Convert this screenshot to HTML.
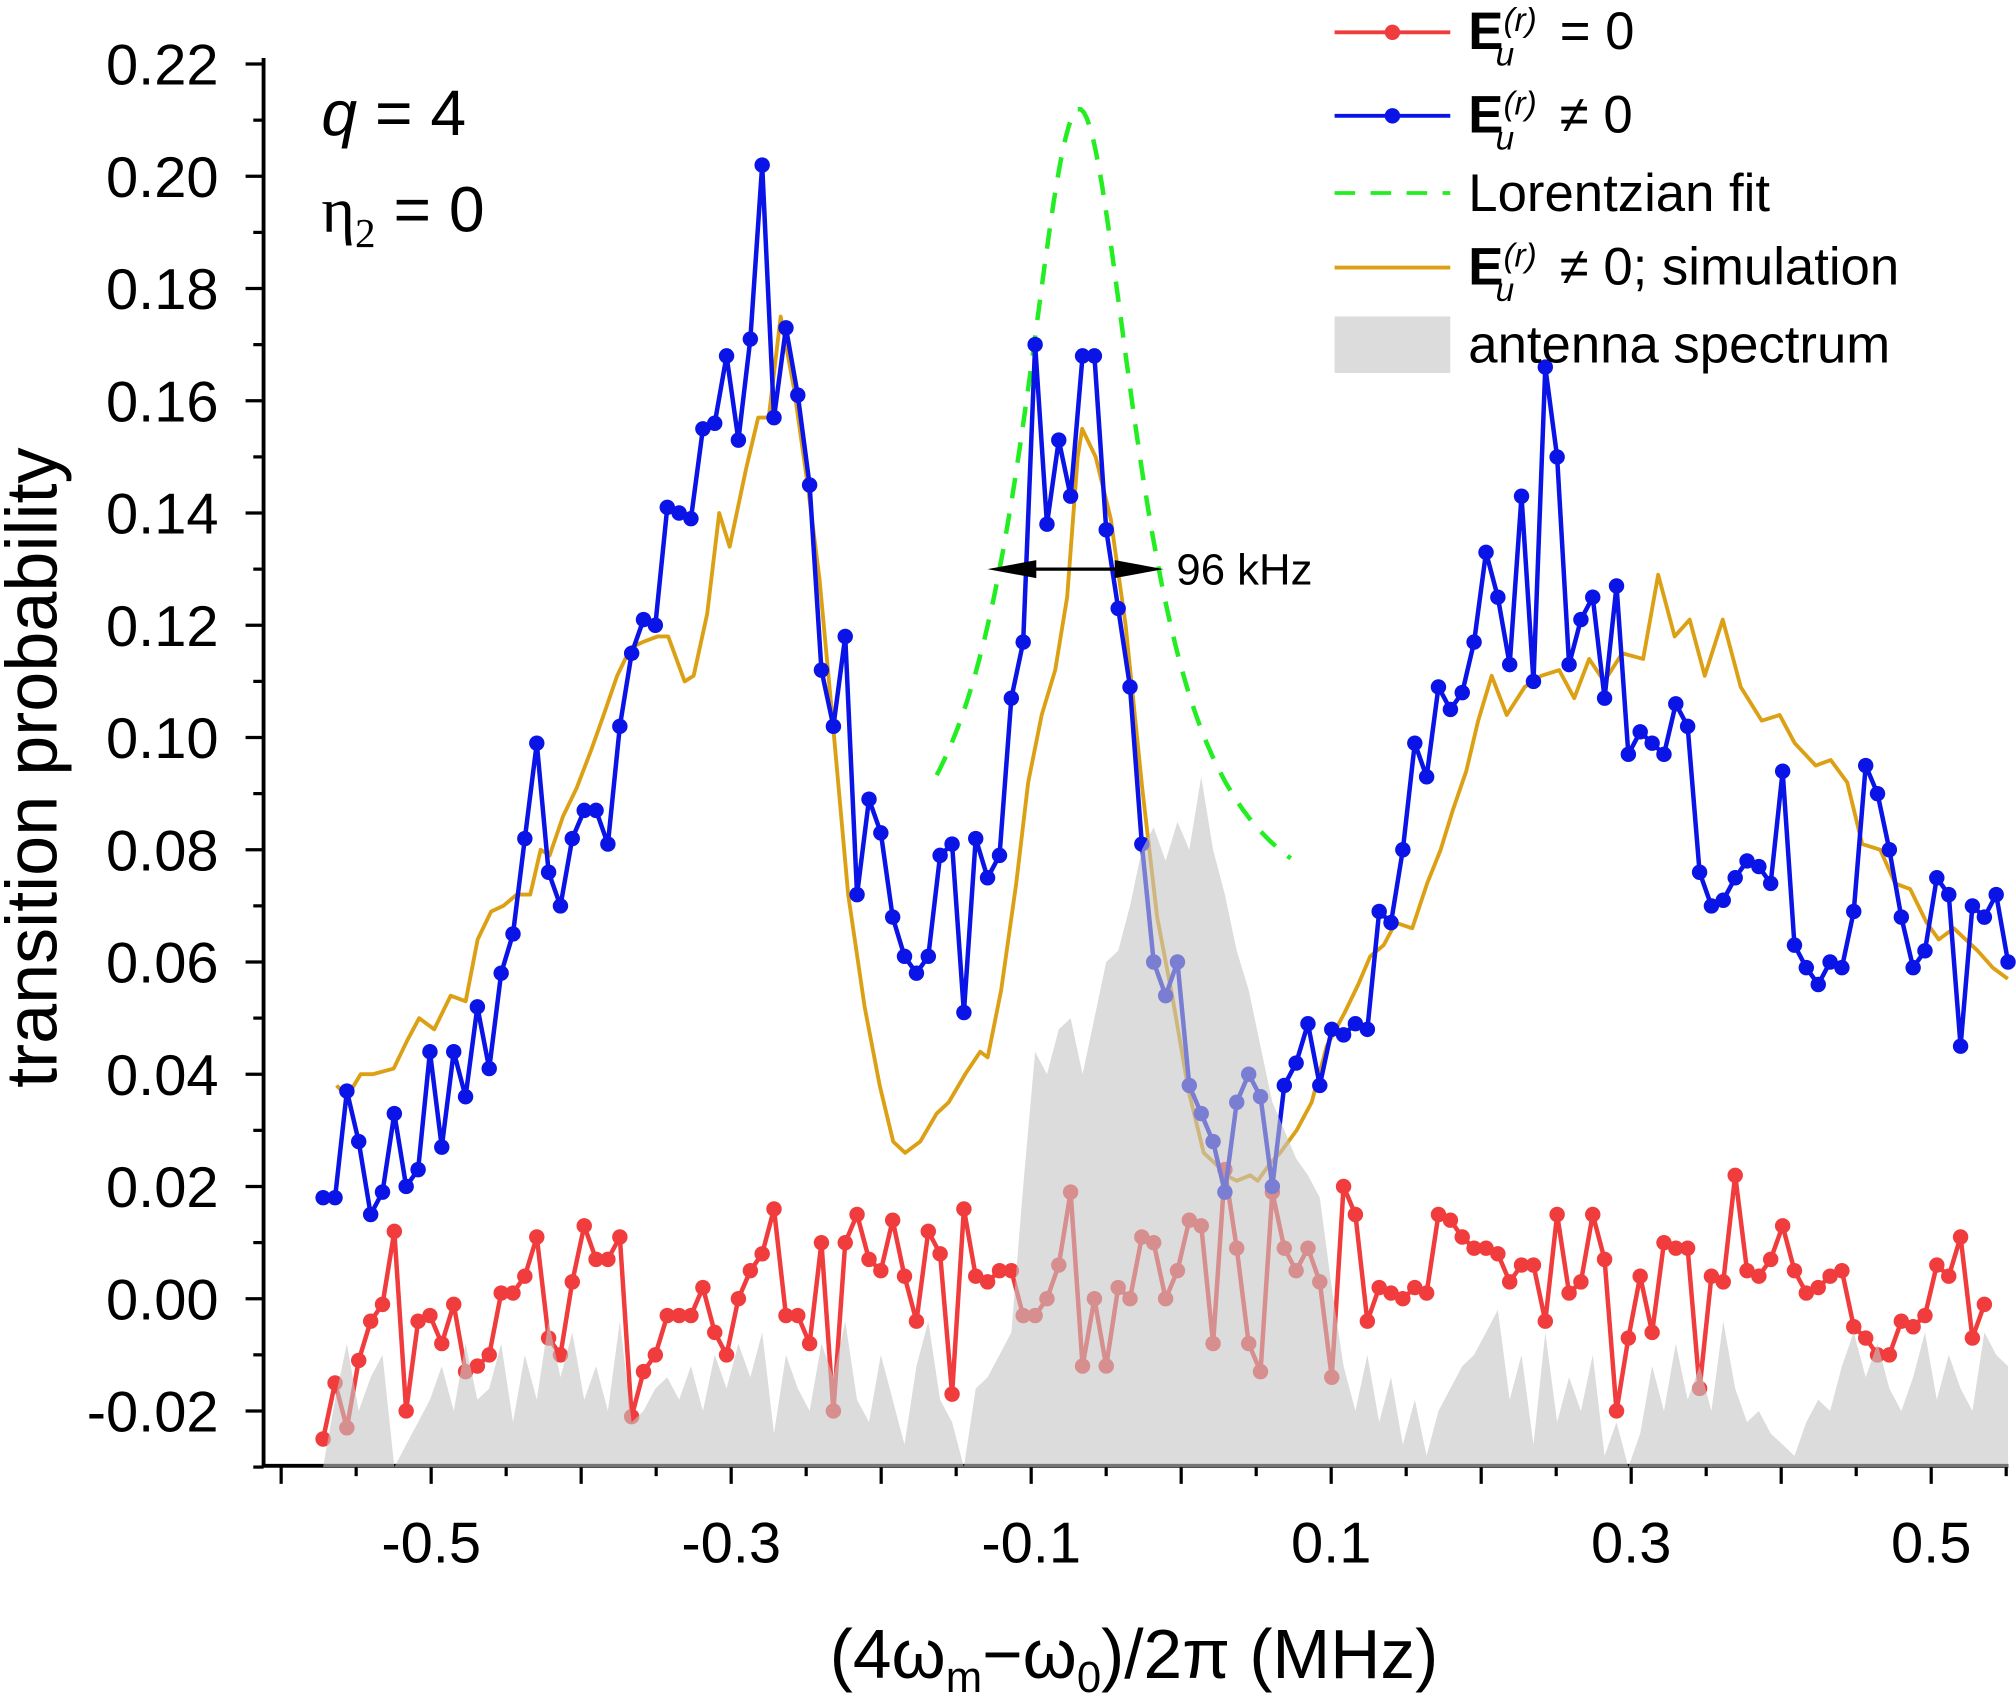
<!DOCTYPE html>
<html><head><meta charset="utf-8"><style>
html,body{margin:0;padding:0;background:#fff;}
svg{display:block;font-family:"Liberation Sans",sans-serif;}
</style></head><body>
<svg id="chart" width="2016" height="1700" viewBox="0 0 1568 1322" xmlns="http://www.w3.org/2000/svg">
<g id="axes"></g>
<g id="plot"></g>
<g>
  <line x1="1038" y1="25" x2="1128" y2="25" stroke="#f03c3c" stroke-width="3"/><circle cx="1083" cy="25" r="6" fill="#f03c3c"/>
  <text x="1142" y="38" font-size="41"><tspan font-weight="bold">E</tspan><tspan font-size="26" dy="-14" font-style="italic">(r)</tspan><tspan font-size="26" dx="-32" dy="27" font-style="italic">u</tspan><tspan dy="-13" dx="24"> = 0</tspan></text>
  <line x1="1038" y1="90" x2="1128" y2="90" stroke="#0a14e6" stroke-width="3"/><circle cx="1083" cy="90" r="6" fill="#0a14e6"/>
  <text x="1142" y="103" font-size="41"><tspan font-weight="bold">E</tspan><tspan font-size="26" dy="-14" font-style="italic">(r)</tspan><tspan font-size="26" dx="-32" dy="27" font-style="italic">u</tspan><tspan dy="-13" dx="24"> ≠ 0</tspan></text>
  <line x1="1038" y1="150" x2="1128" y2="150" stroke="#22ee22" stroke-width="3" stroke-dasharray="16,12"/>
  <text x="1142" y="164" font-size="41">Lorentzian fit</text>
  <line x1="1038" y1="208" x2="1128" y2="208" stroke="#dca015" stroke-width="3"/>
  <text x="1142" y="221" font-size="41"><tspan font-weight="bold">E</tspan><tspan font-size="26" dy="-14" font-style="italic">(r)</tspan><tspan font-size="26" dx="-32" dy="27" font-style="italic">u</tspan><tspan dy="-13" dx="24"> ≠ 0; simulation</tspan></text>
  <rect x="1038" y="246" width="90" height="44" fill="#dcdcdc"/>
  <text x="1142" y="282" font-size="41">antenna spectrum</text>
</g>
<text x="250" y="105" font-size="50"><tspan font-style="italic">q</tspan>  = 4</text>
<text x="250" y="180" font-size="50"><tspan font-family="Liberation Serif">η</tspan><tspan font-size="32" dy="12" font-family="Liberation Serif">2</tspan><tspan dy="-12"> = 0</tspan></text>
<text x="882" y="1305" font-size="54" text-anchor="middle">(4ω<tspan font-size="34" dy="11">m</tspan><tspan dy="-11">−ω</tspan><tspan font-size="34" dy="11">0</tspan><tspan dy="-11">)/2π (MHz)</tspan></text>
<text transform="translate(44,597) rotate(-90)" font-size="56" text-anchor="middle">transition probability</text>
</svg>
<script>
const xStart = -0.572;
const xStep = 0.00791;
const blueVals = [.018,.018,.037,.028,.015,.019,.033,.020,.023,.044,
.027,.044,.036,.052,.041,.058,.065,.082,.099,.076,
.070,.082,.087,.087,.081,.102,.115,.121,.120,.141,
.140,.139,.155,.156,.168,.153,.171,.202,.157,.173,
.161,.145,.112,.102,.118,.072,.089,.083,.068,.061,
.058,.061,.079,.081,.051,.082,.075,.079,.107,.117,
.170,.138,.153,.143,.168,.168,.137,.123,.109,.081,
.060,.054,.060,.038,.033,.028,.019,.035,.040,.036,.020,
.038,.042,.049,.038,.048,.047,.049,.048,.069,.067,
.080,.099,.093,.109,.105,.108,.117,.133,.125,.113,
.143,.110,.166,.150,.113,.121,.125,.107,.127,.097,
.101,.099,.097,.106,.102,.076,.070,.071,.075,.078,
.077,.074,.094,.063,.059,.056,.060,.059,.069,.095,
.090,.080,.068,.059,.062,.075,.072,.045,.070,.068,
.072,.060];
const redVals = [-.025,-.015,-.023,-.011,-.004,-.001,.012,-.020,-.004,-.003,
-.008,-.001,-.013,-.012,-.010,.001,.001,.004,.011,-.007,
-.010,.003,.013,.007,.007,.011,-.021,-.013,-.010,-.003,
-.003,-.003,.002,-.006,-.010,.000,.005,.008,.016,-.003,
-.003,-.008,.010,-.020,.010,.015,.007,.005,.014,.004,
-.004,.012,.008,-.017,.016,.004,.003,.005,.005,-.003,
-.003,.000,.006,.019,-.012,.000,-.012,.002,.000,.011,
.010,.000,.005,.014,.013,-.008,.023,.009,-.008,-.013,
.019,.009,.005,.009,.003,-.014,.020,.015,-.004,.002,
.001,.000,.002,.001,.015,.014,.011,.009,.009,.008,
.003,.006,.006,-.004,.015,.001,.003,.015,.007,-.020,
-.007,.004,-.006,.010,.009,.009,-.016,.004,.003,.022,
.005,.004,.007,.013,.005,.001,.002,.004,.005,-.005,
-.007,-.010,-.010,-.004,-.005,-.003,.006,.004,.011,-.007,-.001];
const antennaVals = [-.030,-.018,-.008,-.020,-.014,-.010,-.030,-.026,-.022,-.018,
-.012,-.020,-.008,-.018,-.016,-.008,-.022,-.010,-.018,-.004,
-.014,-.006,-.018,-.012,-.020,-.004,-.022,-.020,-.016,-.014,
-.018,-.012,-.020,-.010,-.016,-.008,-.014,-.006,-.024,-.010,
-.016,-.020,-.008,-.014,-.004,-.018,-.022,-.010,-.018,-.026,
-.012,-.004,-.018,-.022,-.030,-.016,-.014,-.010,-.006,.020,
.044,.040,.048,.050,.040,.050,.060,.062,.070,.080,
.084,.078,.085,.080,.093,.080,.072,.062,.055,.045,
.035,.030,.025,.022,.018,.002,-.012,-.020,-.010,-.022,
-.014,-.026,-.018,-.028,-.020,-.016,-.012,-.010,-.006,-.002,
-.018,-.010,-.026,-.006,-.022,-.014,-.020,-.010,-.028,-.022,
-.030,-.024,-.012,-.020,-.008,-.018,-.012,-.020,-.004,-.016,
-.022,-.020,-.024,-.026,-.028,-.022,-.018,-.020,-.012,-.006,
-.014,-.008,-.016,-.020,-.014,-.006,-.018,-.010,-.016,-.020,-.006,-.010,-.012];
const simX = [-.563,-.556,-.547,-.539,-.525,-.516,-.508,-.498,-.487,-.477,-.469,-.460,-.452,-.443,-.434,-.427,-.421,-.412,-.403,-.393,-.385,-.376,-.367,-.359,-.349,-.342,-.331,-.325,-.316,-.308,-.301,-.290,-.282,-.275,-.267,-.258,-.249,-.241,-.232,-.222,-.211,-.201,-.192,-.184,-.174,-.163,-.155,-.144,-.134,-.129,-.120,-.110,-.102,-.093,-.084,-.076,-.069,-.066,-.057,-.047,-.037,-.026,-.016,-.006,.005,.015,.023,.030,.037,.046,.051,.059,.066,.077,.087,.097,.109,.118,.126,.135,.143,.154,.164,.173,.181,.190,.198,.207,.217,.229,.240,.252,.262,.272,.282,.294,.308,.318,.329,.339,.349,.361,.373,.387,.399,.409,.423,.433,.444,.454,.466,.476,.486,.497,.505,.515,.531,.541,.551];
const simVals = [.038,.036,.040,.040,.041,.046,.050,.048,.054,.053,.064,.069,.070,.072,.072,.080,.079,.086,.091,.098,.104,.111,.116,.117,.118,.118,.110,.111,.122,.140,.134,.148,.157,.157,.175,.162,.145,.128,.102,.072,.052,.038,.028,.026,.028,.033,.035,.040,.044,.043,.055,.074,.092,.104,.112,.125,.150,.155,.150,.139,.120,.091,.068,.054,.037,.026,.024,.022,.021,.022,.021,.024,.026,.030,.035,.045,.051,.056,.061,.063,.067,.066,.074,.080,.087,.094,.103,.111,.104,.109,.111,.112,.107,.114,.110,.115,.114,.129,.118,.121,.111,.121,.109,.103,.104,.099,.095,.096,.092,.081,.080,.074,.073,.067,.064,.066,.062,.059,.057];
const lorentzParams = [-0.068, 0.048, 0.149, 0.063]; // center, half-width, amplitude, offset
const lorentzRange = [-0.163, 0.074];
const yTicks = [-0.02,0.00,0.02,0.04,0.06,0.08,0.10,0.12,0.14,0.16,0.18,0.20,0.22];
const yTickLabels = ["-0.02","0.00","0.02","0.04","0.06","0.08","0.10","0.12","0.14","0.16","0.18","0.20","0.22"];
const xTicks = [-0.5,-0.3,-0.1,0.1,0.3,0.5];
const xTickLabels = ["-0.5","-0.3","-0.1","0.1","0.3","0.5"];

const NS = "http://www.w3.org/2000/svg";
const X = v => 918.7 + v * 1166.7;
const Y = v => 1010 - v * 4365;
const yMin = -0.03, xLeft = 205, xRight = 1562;
function mk(tag, attrs, parent){ const e=document.createElementNS(NS,tag); for(const k in attrs) e.setAttribute(k,attrs[k]); parent.appendChild(e); return e; }
const axes = document.getElementById('axes'), plot = document.getElementById('plot');
const gx = i => xStart + i * xStep;

let d = simX.map((x,i)=>(i?'L':'M')+X(x).toFixed(1)+' '+Y(simVals[i]).toFixed(1)).join(' ');
const sim = mk('path',{d:d,fill:'none',stroke:'#dca015','stroke-width':3,'stroke-linejoin':'round'},plot);



let lp=[]; for(let x=lorentzRange[0]; x<=lorentzRange[1]+1e-9; x+=0.002){ const u=(x-lorentzParams[0])/lorentzParams[1]; lp.push((lp.length?'L':'M')+X(x).toFixed(1)+' '+Y(lorentzParams[3]+lorentzParams[2]/(1+u*u)).toFixed(1)); }
const lor = mk('path',{d:lp.join(' '),fill:'none',stroke:'#22ee22','stroke-width':3.5,'stroke-dasharray':'16,12'},plot);



function series(vals,color,name){
  const g = mk('g',{},plot);
  
  
  mk('path',{d:vals.map((v,i)=>(i?'L':'M')+X(gx(i)).toFixed(1)+' '+Y(v).toFixed(1)).join(' '),fill:'none',stroke:color,'stroke-width':3.5,'stroke-linejoin':'round'},g);
  vals.forEach((v,i)=>{ const c=mk('circle',{cx:X(gx(i)).toFixed(1),cy:Y(v).toFixed(1),r:6,fill:color},g);
    
     });
}
series(redVals,'#f03c3c','red-series');
series(blueVals,'#0a14e6','blue-series');

let ad = 'M'+X(gx(0)).toFixed(1)+' '+Y(yMin)+' '+antennaVals.map((v,i)=>'L'+Math.min(X(gx(i)),xRight).toFixed(1)+' '+Y(Math.max(v,yMin)).toFixed(1)).join(' ')+' L'+Math.min(X(gx(antennaVals.length-1)),xRight).toFixed(1)+' '+Y(yMin)+' Z';
const ant = mk('path',{d:ad,fill:'#c4c4c4','fill-opacity':0.6,stroke:'none'},plot);



const arY = Y(0.13);
const ar = mk('g',{},plot);


mk('line',{x1:790,y1:arY,x2:885,y2:arY,stroke:'#000','stroke-width':2.5},ar);
mk('polygon',{points:`768,${arY} 806,${arY-7} 806,${arY+7}`,fill:'#000'},ar);
mk('polygon',{points:`905,${arY} 867,${arY-7} 867,${arY+7}`,fill:'#000'},ar);
const at = mk('text',{x:915,y:arY+12,'font-size':34},plot); at.textContent='96 kHz';



mk('line',{x1:xLeft,y1:45,x2:xLeft,y2:1141,stroke:'#000','stroke-width':3},axes);
mk('line',{x1:xLeft-1,y1:1140,x2:xRight,y2:1140,stroke:'#000','stroke-width':3},axes);
for(let k=-3;k<=22;k++){ const v=k/100; const y=Y(v); const major=(k%2===0);
  mk('line',{x1:xLeft-(major?14:8),y1:y,x2:xLeft,y2:y,stroke:'#000','stroke-width':2.5},axes); }
yTicks.forEach((v,i)=>{ const t=mk('text',{x:170,y:Y(v)+16,'font-size':45,'text-anchor':'end'},axes); t.textContent=yTickLabels[i];
  
   });
for(let k=-12;k<=11;k++){ const v=k*0.05; const x=X(v); if(x<xLeft) continue; const major=(k%2===0);
  mk('line',{x1:x,y1:1140,x2:x,y2:1140+(major?14:8),stroke:'#000','stroke-width':2.5},axes); }
xTicks.forEach((v,i)=>{ const t=mk('text',{x:X(v),y:1215,'font-size':45,'text-anchor':'middle'},axes); t.textContent=xTickLabels[i];
  
   });
</script>
</body></html>
